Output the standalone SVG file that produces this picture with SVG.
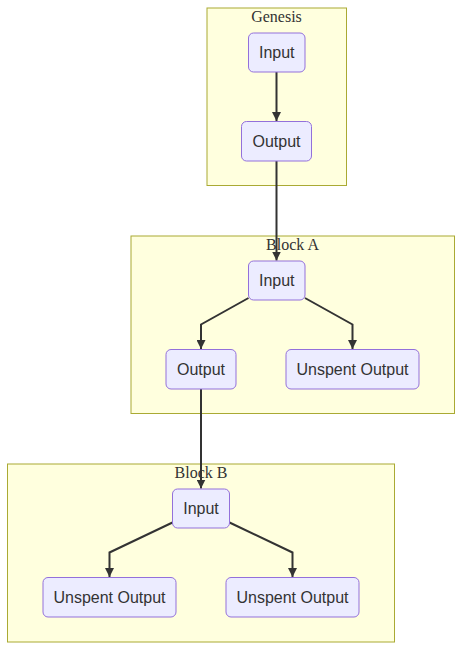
<svg xmlns="http://www.w3.org/2000/svg" width="461" height="650" viewBox="0 0 461 650">
<style>
.cluster{fill:#ffffde;stroke:#aaaa33;stroke-width:1}
.clabel{font-family:"Liberation Serif",serif;font-size:16px;fill:#333;text-anchor:middle}
.node rect{fill:#ECECFF;stroke:#9370DB;stroke-width:1}
.node text{font-family:"Liberation Sans",Arial,sans-serif;font-size:16px;fill:#333;text-anchor:middle;dominant-baseline:central}
.edge{fill:none;stroke:#333;stroke-width:2}
</style>
<defs>
<marker id="arrow" viewBox="0 0 10 10" refX="10" refY="5" markerWidth="9" markerHeight="9" markerUnits="userSpaceOnUse" orient="auto">
<path d="M0,0 L10,5 L0,10 z" fill="#333"/>
</marker>
</defs>
<g id="clusters">
<g id="genesis"><rect class="cluster" x="207" y="8" width="139.5" height="177.5"/><text class="clabel" x="276.5" y="22">Genesis</text></g>
<g id="blockA"><rect class="cluster" x="131" y="236" width="323.5" height="177.5"/><text class="clabel" x="292.5" y="250">Block A</text></g>
<g id="blockB"><rect class="cluster" x="7.5" y="464" width="387" height="178"/><text class="clabel" x="201" y="478">Block B</text></g>
</g>
<g id="connectors">
<path class="edge" d="M276.5,72 L276.5,121" marker-end="url(#arrow)"/>
<path class="edge" d="M276.5,161 L276.5,260.5" marker-end="url(#arrow)"/>
<path class="edge" d="M248.5,298 L201,324.5 L201,349" marker-end="url(#arrow)"/>
<path class="edge" d="M305,298 L352.5,324.5 L352.5,349" marker-end="url(#arrow)"/>
<path class="edge" d="M201,389 L201,488.5" marker-end="url(#arrow)"/>
<path class="edge" d="M172.5,522.5 L109.5,552.5 L109.5,577" marker-end="url(#arrow)"/>
<path class="edge" d="M229.5,522.5 L292.5,552.5 L292.5,577" marker-end="url(#arrow)"/>
</g>
<g id="g_input" class="node"><rect x="248.5" y="33" width="56.5" height="39" rx="5"/><text x="276.75" y="52.5">Input</text></g>
<g id="g_output" class="node"><rect x="241.5" y="121.5" width="70" height="39.5" rx="5"/><text x="276.5" y="141.25">Output</text></g>
<g id="a_input" class="node"><rect x="248.5" y="261" width="56.5" height="39" rx="5"/><text x="276.75" y="280.5">Input</text></g>
<g id="a_output" class="node"><rect x="166" y="349.5" width="70" height="39.5" rx="5"/><text x="201" y="369.25">Output</text></g>
<g id="a_unspent" class="node"><rect x="286" y="349.5" width="133" height="39.5" rx="5"/><text x="352.5" y="369.25">Unspent Output</text></g>
<g id="b_input" class="node"><rect x="172.5" y="489" width="57" height="39" rx="5"/><text x="201" y="508.5">Input</text></g>
<g id="b_unspent1" class="node"><rect x="43" y="577.5" width="133" height="39.5" rx="5"/><text x="109.5" y="597.25">Unspent Output</text></g>
<g id="b_unspent2" class="node"><rect x="226" y="577.5" width="133" height="39.5" rx="5"/><text x="292.5" y="597.25">Unspent Output</text></g>
</svg>
